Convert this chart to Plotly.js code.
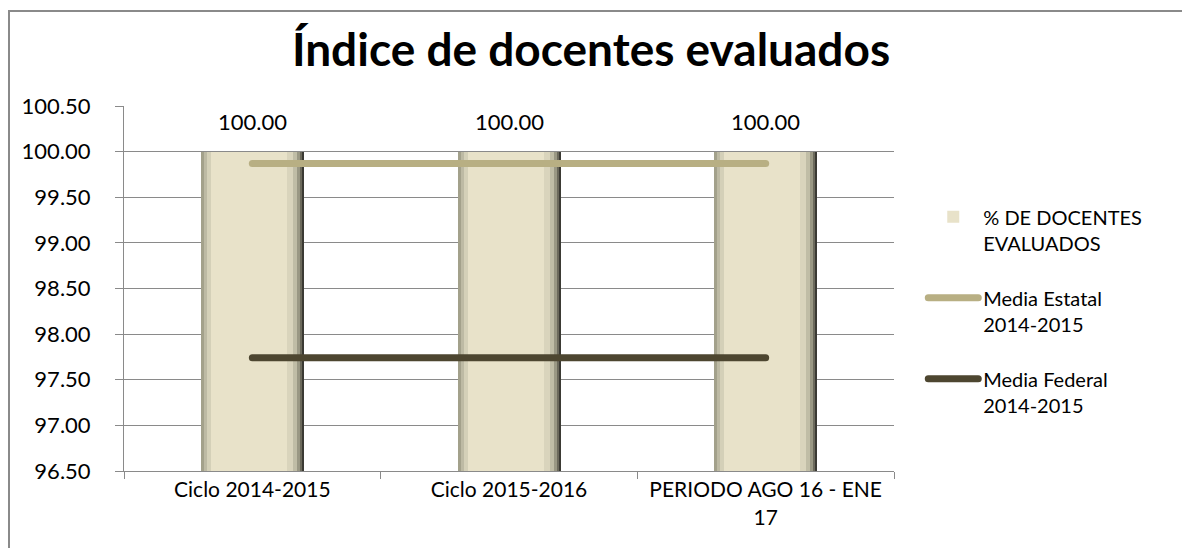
<!DOCTYPE html>
<html>
<head>
<meta charset="utf-8">
<script src="https://cdn.plot.ly/plotly-3.0.1.min.js"></script>
<style>
  html, body { margin: 0; padding: 0; background: #fff; overflow: hidden; }
  #chart { width: 1182px; height: 548px; }
  #frame { position: absolute; left: 8px; top: 10px; width: 2000px; height: 2000px;
           border: 2px solid #8a8a8a; pointer-events: none; }
  .scatterlayer path.js-line { stroke-linecap: round; }
  .legendlines path { stroke-linecap: round; }
</style>
</head>
<body>
<div id="chart"></div>
<div id="frame"></div>
<script>
// ---- data ----
const categories = ["Ciclo 2014-2015", "Ciclo 2015-2016", "PERIODO AGO 16 - ENE<br>17"];
const docentesEvaluados = [100.00, 100.00, 100.00];
const mediaEstatal = [99.87, 99.87, 99.87];
const mediaFederal = [97.74, 97.74, 97.74];
const seriesNames = ["% DE DOCENTES<br>EVALUADOS", "Media Estatal<br>2014-2015", "Media Federal<br>2014-2015"];

// ---- bar shading layers (px from bar left edge; bar is ~103px in a ~256.7px category) ----
const catPx = 770 / 3;
const barPx = 103;
const layers = [
  { s: 0,  e: 103, c: "#3b3a34" },
  { s: 0,  e: 101, c: "#6c6a5c" },
  { s: 0,  e: 99,  c: "#9a9884" },
  { s: 0,  e: 96,  c: "#c0bda6" },
  { s: 0,  e: 92,  c: "#d9d4bc" },
  { s: 0,  e: 86,  c: "#a3a18b" },
  { s: 3,  e: 86,  c: "#bdbaa4" },
  { s: 6,  e: 86,  c: "#d4d0b8" },
  { s: 10, e: 86,  c: "#e8e2c9", legend: true }
];

const traces = [];
layers.forEach(function (L) {
  traces.push({
    type: "bar",
    x: categories,
    y: docentesEvaluados,
    offset: (-barPx / 2 + L.s) / catPx,
    width: (L.e - L.s) / catPx,
    marker: { color: L.c, line: { width: 0 } },
    name: seriesNames[0],
    showlegend: !!L.legend,
    legendgroup: "g1",
    legendrank: 1,
    hoverinfo: "skip"
  });
});

traces.push({
  type: "scatter", mode: "lines",
  x: categories, y: mediaEstatal,
  name: seriesNames[1], legendgroup: "g2", legendrank: 2,
  line: { color: "#b8af83", width: 7 }
});
traces.push({
  type: "scatter", mode: "lines",
  x: categories, y: mediaFederal,
  name: seriesNames[2], legendgroup: "g3", legendrank: 3,
  line: { color: "#4d4630", width: 7 }
});

const annotations = categories.map(function (c, i) {
  return {
    x: c, y: docentesEvaluados[i], xref: "x", yref: "y",
    text: docentesEvaluados[i].toFixed(2),
    showarrow: false, yanchor: "bottom", yshift: 15,
    font: { family: "Lato, sans-serif", size: 22, color: "#000" }
  };
});

const layout = {
  width: 1182, height: 548,
  margin: { l: 124, r: 288, t: 106, b: 77 },
  paper_bgcolor: "#fff", plot_bgcolor: "#fff",
  font: { family: "Lato, sans-serif", size: 21, color: "#000" },
  title: {
    text: "<b>Índice de docentes evaluados</b>",
    font: { family: "Lato, sans-serif", size: 46, color: "#000" },
    x: 0.5, xanchor: "center", xref: "container",
    y: 1 - 50 / 548, yanchor: "middle", yref: "container"
  },
  barmode: "overlay",
  bargap: 0,
  showlegend: true,
  legend: {
    x: 1.038, xanchor: "left", y: 0.75, yanchor: "top",
    font: { family: "Lato, sans-serif", size: 20, color: "#000" },
    traceorder: "grouped", tracegroupgap: 26, valign: "top",
    bgcolor: "rgba(0,0,0,0)", itemwidth: 50
  },
  xaxis: {
    type: "category",
    showline: true, linecolor: "#8a8a8a", linewidth: 1,
    ticks: "outside", tickson: "boundaries", ticklen: 7, tickcolor: "#8a8a8a",
    showgrid: false,
    tickfont: { family: "Lato, sans-serif", size: 21, color: "#000" },
    range: [-0.5, 2.5]
  },
  yaxis: {
    range: [96.5, 100.5], dtick: 0.5, tick0: 96.5, tickformat: ".2f",
    showline: true, linecolor: "#8a8a8a", linewidth: 1,
    ticks: "outside", ticklen: 8, tickcolor: "#8a8a8a",
    ticklabelstandoff: 20,
    showgrid: true, gridcolor: "#8a8a8a", gridwidth: 1,
    zeroline: false,
    tickfont: { family: "Lato, sans-serif", size: 22, color: "#000" }
  },
  annotations: annotations
};

Plotly.newPlot("chart", traces, layout, { displayModeBar: false, staticPlot: true });
</script>
</body>
</html>
